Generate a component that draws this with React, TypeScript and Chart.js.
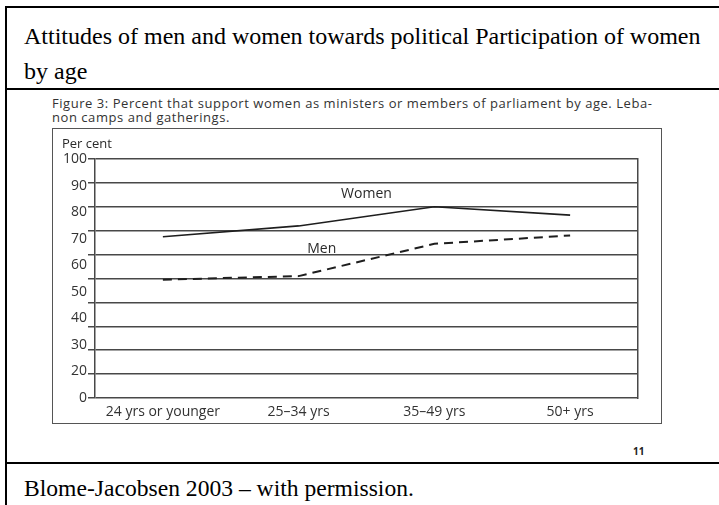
import React, { useEffect, useRef } from "react";
import { Chart, registerables } from "chart.js";

Chart.register(...registerables);

const categories = ["24 yrs or younger", "25–34 yrs", "35–49 yrs", "50+ yrs"];
const women = [67.5, 72, 80, 76.5];
const men = [49.5, 51, 64.5, 68];
const seriesNames = ["Women", "Men"];
const yLabelTicks = ["0", "20", "30", "40", "50", "60", "70", "80", "90", "100"];
const yGridMin = 0;
const yGridMax = 100;
const yGridStep = 10;

const SANS = "'Open Sans', 'DejaVu Sans', sans-serif";
const SERIF = "'Liberation Serif', 'Times New Roman', serif";

const annotations = {
  id: "annotations",
  afterDatasetsDraw(chart: any) {
    const { ctx, scales } = chart;
    const x = scales.x;
    const y = scales.y;
    ctx.save();
    ctx.fillStyle = "#2a2a2a";
    ctx.font = `14px ${SANS}`;
    ctx.textAlign = "center";
    ctx.textBaseline = "middle";
    ctx.fillText(seriesNames[0], x.getPixelForValue(1.5), y.getPixelForValue(85.5));
    ctx.fillText(seriesNames[1], x.getPixelForValue(1.17), y.getPixelForValue(62.3));
    ctx.textAlign = "left";
    ctx.font = `13px ${SANS}`;
    ctx.fillText("Per cent", chart.chartArea.left - 33, y.getPixelForValue(106));
    ctx.restore();
  },
};

function ChartBox() {
  const ref = useRef<HTMLCanvasElement>(null);
  useEffect(() => {
    if (!ref.current) return;
    const chart = new Chart(ref.current, {
      type: "line",
      data: {
        labels: categories,
        datasets: [
          {
            label: seriesNames[0],
            data: women,
            borderColor: "#1e1e1e",
            borderWidth: 1.6,
            pointRadius: 0,
            tension: 0,
            fill: false,
          },
          {
            label: seriesNames[1],
            data: men,
            borderColor: "#1e1e1e",
            borderWidth: 2,
            borderDash: [9, 6],
            pointRadius: 0,
            tension: 0,
            fill: false,
          },
        ],
      },
      options: {
        animation: false,
        responsive: false,
        layout: { padding: { left: 0, right: 23, top: 30, bottom: 0 } },
        plugins: { legend: { display: false }, tooltip: { enabled: false } },
        scales: {
          x: {
            type: "category",
            offset: true,
            grid: { display: false, drawTicks: false },
            border: { display: false },
            ticks: {
              autoSkip: false,
              maxRotation: 0,
              padding: 6,
              color: "#333",
              font: { family: SANS, size: 14 },
            },
            afterFit: (s: any) => {
              s.height = 25;
            },
          },
          y: {
            position: "left",
            weight: 0,
            min: yGridMin,
            max: yGridMax,
            ticks: { display: false, stepSize: yGridStep },
            grid: {
              color: "#484848",
              lineWidth: 1.5,
              tickLength: 7,
              drawTicks: true,
            },
            border: { display: true, color: "#484848", width: 1.5 },
            afterFit: (s: any) => {
              s.width = 7;
            },
          },
          yl: {
            position: "left",
            weight: 1,
            min: 0,
            max: yLabelTicks.length - 1,
            grid: { display: false, drawTicks: false },
            border: { display: false },
            ticks: {
              stepSize: 1,
              padding: 1,
              color: "#333",
              font: { family: SANS, size: 14 },
              callback: (v: any) => yLabelTicks[v],
            },
            afterFit: (s: any) => {
              s.width = 35;
            },
          },
          yr: {
            position: "right",
            min: 0,
            max: 100,
            grid: { display: false, drawTicks: false },
            border: { display: true, color: "#484848", width: 1.5 },
            ticks: { display: false },
            afterFit: (s: any) => {
              s.width = 0;
            },
          },
        },
      },
      plugins: [annotations],
    });
    return () => chart.destroy();
  }, []);
  return <canvas ref={ref} width={608} height={294} style={{ display: "block" }} />;
}

export default function App() {
  const abs = (o: React.CSSProperties): React.CSSProperties => ({ position: "absolute", ...o });
  return (
    <div style={{ position: "fixed", left: 0, top: 0, width: 719, height: 505, background: "#fff", overflow: "hidden" }}>
      <div style={abs({ left: 5, top: 6, width: 720, height: 2, background: "#000" })} />
      <div style={abs({ left: 5, top: 6, width: 2, height: 510, background: "#000" })} />
      <div style={abs({ left: 5, top: 88, width: 720, height: 2, background: "#000" })} />
      <div style={abs({ left: 5, top: 462, width: 720, height: 2, background: "#000" })} />
      <div
        style={abs({
          left: 24,
          top: 19,
          fontFamily: SERIF,
          fontSize: 24,
          lineHeight: "35px",
          color: "#000",
          whiteSpace: "nowrap",
        })}
      >
        Attitudes of men and women towards political Participation of women
        <br />
        by age
      </div>
      <div
        style={abs({
          left: 52,
          top: 96,
          fontFamily: SANS,
          fontSize: 13,
          letterSpacing: "0.55px",
          lineHeight: "14px",
          color: "#333",
          whiteSpace: "nowrap",
        })}
      >
        Figure 3: Percent that support women as ministers or members of parliament by age. Leba-
        <br />
        non camps and gatherings.
      </div>
      <div style={abs({ left: 52, top: 128, width: 608, height: 294, border: "1px solid #555" })}>
        <ChartBox />
      </div>
      <div style={abs({ left: 633, top: 444, fontFamily: SANS, fontSize: 10, fontWeight: 700, color: "#222" })}>11</div>
      <div style={abs({ left: 24, top: 473, fontFamily: SERIF, fontSize: 23.6, lineHeight: "30px", color: "#000", whiteSpace: "nowrap" })}>
        Blome-Jacobsen 2003 – with permission.
      </div>
    </div>
  );
}
